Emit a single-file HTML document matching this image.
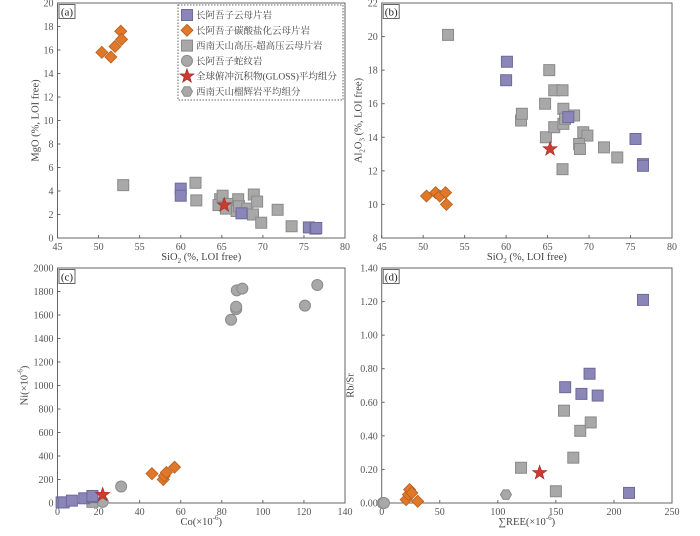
<!DOCTYPE html>
<html><head><meta charset="utf-8"><style>
body{margin:0;background:#fff;}
svg text{font-family:"Liberation Serif","Noto Serif CJK SC",serif;}
</style></head><body>
<svg id="c" width="700" height="531" viewBox="0 0 700 531"></svg>
<script>
// Panel (a)/(b): SiO2 data
const aPurpleX=[60,60,67.4,75.6,76.4,76.5], aPurpleY=[4.2,3.6,2.1,0.9,0.8,0.85];
const aOrangeX=[50.4,51.5,52,52.7,52.8], aOrangeY=[15.8,15.4,16.3,17.6,16.9];
const aGrayX=[53,61.8,61.9,64.8,64.6,65.1,65.8,66.8,67,67.1,68.1,68.9,68.8,69.3,69.8,71.8,73.5,65.5];
const aGrayY=[4.5,4.7,3.2,3.3,2.8,3.6,2.9,2.3,3.3,2.7,2.5,3.7,2,3.1,1.3,2.4,1,2.5];
const aStar=[65.3,2.8];
const bPurpleX=[60.1,60,67.5,75.6,76.5,76.5], bPurpleY=[18.5,17.4,15.2,13.9,12.4,12.3];
const bOrangeX=[50.4,51.5,52,52.7,52.8], bOrangeY=[10.5,10.7,10.5,10.7,10];
const bGrayX=[53,61.8,61.9,64.7,64.8,65.2,65.8,65.8,66.8,66.9,66.9,67.1,68.2,69.3,69.8,68.8,68.9,66.8,71.8,73.4];
const bGrayY=[20.1,15,15.4,16,14,18,16.8,14.6,16.8,15.7,14.8,15.1,15.3,14.3,14.1,13.6,13.3,12.1,13.4,12.8];
const bStar=[65.3,13.3];
// Panel (c)
const cPurpleX=[2,3,7,13,17,17], cPurpleY=[5,5,20,40,50,60];
const cGrayX=[17], cGrayY=[10];
const cOrangeX=[46,51.5,52,53,57], cOrangeY=[250,200,230,260,305];
const cCircX=[22,31,84.5,87,87,87.3,90,120.5,126.5], cCircY=[10,140,1560,1650,1670,1810,1825,1680,1855];
const cStar=[22,70];
// Panel (d)
const dPurpleX=[158,172,179,186,213,225], dPurpleY=[0.69,0.65,0.77,0.64,0.06,1.21];
const dGrayX=[120,150,157,165,171,180], dGrayY=[0.21,0.07,0.55,0.27,0.43,0.48];
const dOrangeX=[21,23,24,26,31], dOrangeY=[0.02,0.05,0.08,0.06,0.01];
const dCircX=[1,2], dCircY=[0,0];
const dHexX=[107], dHexY=[0.05];
const dStar=[136,0.18];
const ticksSi=[45,50,55,60,65,70,75,80];
const ticksMg=[0,2,4,6,8,10,12,14,16,18,20];
const ticksAl=[8,10,12,14,16,18,20,22];
const ticksCo=[0,20,40,60,80,100,120,140];
const ticksNi=[0,200,400,600,800,1000,1200,1400,1600,1800,2000];
const ticksREE=[0,50,100,150,200,250];
const ticksRb=[0,0.2,0.4,0.6,0.8,1.0,1.2,1.4];
const legendLabels=["长阿吾子云母片岩","长阿吾子碳酸盐化云母片岩","西南天山高压-超高压云母片岩","长阿吾子蛇纹岩","全球俯冲沉积物(GLOSS)平均组分","西南天山榴辉岩平均组分"];

const NS="http://www.w3.org/2000/svg";
const svg=document.getElementById('c');
function mk(t,a,p){const e=document.createElementNS(NS,t);for(const k in a)e.setAttribute(k,a[k]);(p||svg).appendChild(e);return e;}
const COL={purple:"#8b86b8",orange:"#e0782a",gray:"#a8a8a8",star:"#cc3b32"};
function marker(g,type,x,y,name){
  let e;
  if(type==='purple'||type==='gray'){e=mk('rect',{x:x-5.5,y:y-5.5,width:11,height:11,fill:COL[type],stroke:type==='purple'?'#6e6a9a':'#8a8a8a','stroke-width':1},g);}
  else if(type==='orange'){e=mk('polygon',{points:`${x},${y-6} ${x+6},${y} ${x},${y+6} ${x-6},${y}`,fill:COL.orange,stroke:'#b85e1c','stroke-width':0.8},g);}
  else if(type==='circle'){e=mk('circle',{cx:x,cy:y,r:5.5,fill:'#a8a8a8',stroke:'#8a8a8a','stroke-width':1},g);}
  else if(type==='hex'){let p=[];for(let i=0;i<6;i++){const an=Math.PI/3*i;p.push((x+5.5*Math.cos(an))+','+(y+5.5*Math.sin(an)));}e=mk('polygon',{points:p.join(' '),fill:'#a8a8a8',stroke:'#8a8a8a'},g);}
  else {let p=[];for(let i=0;i<10;i++){const r=i%2?3:7.5,an=-Math.PI/2+Math.PI/5*i;p.push((x+r*Math.cos(an)).toFixed(1)+','+(y+r*Math.sin(an)).toFixed(1));}e=mk('polygon',{points:p.join(' '),fill:COL.star,stroke:'#a02a22','stroke-width':0.6},g);}
  
  
}
function panel(o){
  const g=mk('g',{});
  
  
  const sx=v=>o.x0+(v-o.xd[0])/(o.xd[1]-o.xd[0])*(o.x1-o.x0);
  const sy=v=>o.y1-(v-o.yd[0])/(o.yd[1]-o.yd[0])*(o.y1-o.y0);
  const fr=mk('rect',{x:o.x0,y:o.y0,width:o.x1-o.x0,height:o.y1-o.y0,fill:'none',stroke:'#666','stroke-width':1},g);
  
  
  o.xt.forEach(t=>{const X=sx(t);mk('line',{x1:X,x2:X,y1:o.y1,y2:o.y1-3,stroke:'#666'},g);
    const tx=mk('text',{x:X,y:o.y1+12,'font-size':10,fill:'#555','text-anchor':'middle'},g);tx.textContent=o.xf(t);
    
    });
  o.yt.forEach(t=>{const Y=sy(t);mk('line',{x1:o.x0,x2:o.x0+3,y1:Y,y2:Y,stroke:'#666'},g);
    const tx=mk('text',{x:o.x0-4,y:Y+3.5,'font-size':10,fill:'#555','text-anchor':'end'},g);tx.textContent=o.yf(t);
    
    });
  const xl=mk('text',{x:(o.x0+o.x1)/2,y:o.y1+22,'font-size':10.5,fill:'#444','text-anchor':'middle'},g);xl.innerHTML=o.xlab;
  
  
  const yx=o.x0-o.yoff,yy=(o.y0+o.y1)/2;
  const yl=mk('text',{x:yx,y:yy,'font-size':10.5,fill:'#444','text-anchor':'middle',transform:`rotate(-90 ${yx} ${yy})`},g);yl.innerHTML=o.ylab;
  
  
  mk('rect',{x:o.x0+1.5,y:o.y0+1.5,width:16,height:14,fill:'#fff',stroke:'#666'},g);
  const lb=mk('text',{x:o.x0+9.5,y:o.y0+12.5,'font-size':11,fill:'#222','text-anchor':'middle'},g);lb.textContent='('+o.id+')';
  
  
  o.series.forEach(s=>{for(let i=0;i<s.x.length;i++)marker(g,s.t,sx(s.x[i]),sy(s.y[i]),o.id+'-'+s.t+'-point');});
  return g;
}
const f0=v=>String(v), f2=v=>v.toFixed(2);
panel({id:'a',x0:57.5,x1:345,y0:3,y1:238,xd:[45,80],yd:[0,20],xt:ticksSi,yt:ticksMg,xf:f0,yf:f0,yoff:19,
  xlab:'SiO<tspan font-size="7" dy="3">2</tspan><tspan dy="-3"> (%, LOI free)</tspan>',ylab:'MgO (%, LOI free)',
  series:[{t:'gray',x:aGrayX,y:aGrayY},{t:'purple',x:aPurpleX,y:aPurpleY},{t:'orange',x:aOrangeX,y:aOrangeY},{t:'star',x:[aStar[0]],y:[aStar[1]]}]});
panel({id:'b',x0:381.7,x1:672,y0:3,y1:238,xd:[45,80],yd:[8,22],xt:ticksSi,yt:ticksAl,xf:f0,yf:f0,yoff:20,
  xlab:'SiO<tspan font-size="7" dy="3">2</tspan><tspan dy="-3"> (%, LOI free)</tspan>',ylab:'Al<tspan font-size="7" dy="3">2</tspan><tspan dy="-3">O</tspan><tspan font-size="7" dy="3">3</tspan><tspan dy="-3"> (%, LOI free)</tspan>',
  series:[{t:'gray',x:bGrayX,y:bGrayY},{t:'purple',x:bPurpleX,y:bPurpleY},{t:'orange',x:bOrangeX,y:bOrangeY},{t:'star',x:[bStar[0]],y:[bStar[1]]}]});
panel({id:'c',x0:57.5,x1:345,y0:268,y1:503,xd:[0,140],yd:[0,2000],xt:ticksCo,yt:ticksNi,xf:f0,yf:f0,yoff:30,
  xlab:'Co(×10<tspan font-size="7" dy="-5">-6</tspan><tspan dy="5">)</tspan>',ylab:'Ni(×10<tspan font-size="7" dy="-5">-6</tspan><tspan dy="5">)</tspan>',
  series:[{t:'gray',x:cGrayX,y:cGrayY},{t:'circle',x:cCircX,y:cCircY},{t:'purple',x:cPurpleX,y:cPurpleY},{t:'orange',x:cOrangeX,y:cOrangeY},{t:'star',x:[cStar[0]],y:[cStar[1]]}]});
panel({id:'d',x0:381.7,x1:672,y0:268,y1:503,xd:[0,250],yd:[0,1.4],xt:ticksREE,yt:ticksRb,xf:f0,yf:f2,yoff:28,
  xlab:'∑REE(×10<tspan font-size="7" dy="-5">-6</tspan><tspan dy="5">)</tspan>',ylab:'Rb/Sr',
  series:[{t:'gray',x:dGrayX,y:dGrayY},{t:'purple',x:dPurpleX,y:dPurpleY},{t:'orange',x:dOrangeX,y:dOrangeY},{t:'circle',x:dCircX,y:dCircY},{t:'hex',x:dHexX,y:dHexY},{t:'star',x:[dStar[0]],y:[dStar[1]]}]});
// legend
const lg=mk('g',{});


mk('rect',{x:178,y:5,width:165,height:95,fill:'#fff',stroke:'#666','stroke-dasharray':'1.5,1.5'},lg);
const ltypes=['purple','orange','gray','circle','star','hex'];
legendLabels.forEach((s,i)=>{const y=15+i*15.3;marker(lg,ltypes[i],187,y,'legend-marker');
  const t=mk('text',{x:196,y:y+3.5,'font-size':9.5,fill:'#444'},lg);t.textContent=s;
  
  });
</script>
</body></html>
